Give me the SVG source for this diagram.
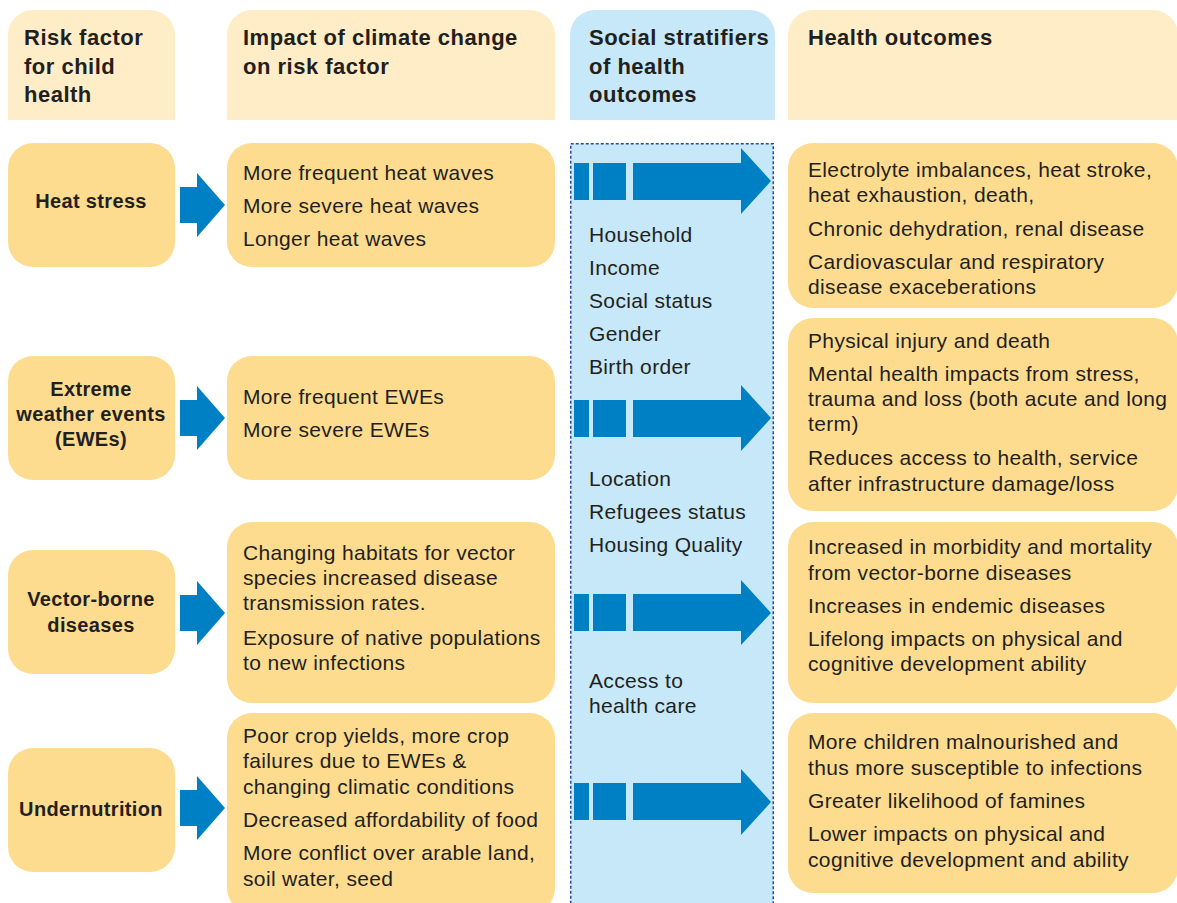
<svg xmlns="http://www.w3.org/2000/svg" width="1177" height="903" viewBox="0 0 1177 903">
  <defs>
    <style>
      .hdr { fill: #feedc7; }
      .hdrb { fill: #c6e8f8; }
      .box { fill: #fddc8f; }
      .col { fill: #c6e8f8; stroke: #2d4b9b; stroke-width: 1.5; stroke-dasharray: 3 2; }
      .arr { fill: #0080c4; }
      text { font-family: "Liberation Sans", Arial, sans-serif; fill: #231f20; }
      .ht { font-size: 22px; font-weight: bold; letter-spacing: 0.5px; }
      .lt { font-size: 20px; font-weight: bold; text-anchor: middle; letter-spacing: 0.35px; }
      .bt { font-size: 21px; letter-spacing: 0.35px; }
    </style>
  </defs>
  <rect width="1177" height="903" fill="#ffffff"/>

  <!-- column headers (rounded top corners only) -->
  <g id="hdr-risk">
    <path class="hdr" d="M8,120 V35 A25,25 0 0 1 33,10 H150 A25,25 0 0 1 175,35 V120 Z"/>
    <text class="ht" x="24" y="45">Risk factor</text>
    <text class="ht" x="24" y="74">for child</text>
    <text class="ht" x="24" y="102">health</text>
  </g>
  <g id="hdr-impact">
    <path class="hdr" d="M227,120 V35 A25,25 0 0 1 252,10 H530 A25,25 0 0 1 555,35 V120 Z"/>
    <text class="ht" x="243" y="45">Impact of climate change</text>
    <text class="ht" x="243" y="74">on risk factor</text>
  </g>
  <g id="hdr-social">
    <path class="hdrb" d="M570,120 V35 A25,25 0 0 1 595,10 H750 A25,25 0 0 1 775,35 V120 Z"/>
    <text class="ht" x="589" y="45">Social stratifiers</text>
    <text class="ht" x="589" y="74">of health</text>
    <text class="ht" x="589" y="102">outcomes</text>
  </g>
  <g id="hdr-outcomes">
    <path class="hdr" d="M788,120 V35 A25,25 0 0 1 813,10 H1153 A25,25 0 0 1 1178,35 V120 Z"/>
    <text class="ht" x="808" y="45">Health outcomes</text>
  </g>

  <!-- social stratifiers column -->
  <g id="social-column">
    <rect class="col" x="570.75" y="143.75" width="202.5" height="770"/>
    <text class="bt" x="589" y="242">Household</text>
    <text class="bt" x="589" y="275">Income</text>
    <text class="bt" x="589" y="308">Social status</text>
    <text class="bt" x="589" y="341">Gender</text>
    <text class="bt" x="589" y="374">Birth order</text>
    <text class="bt" x="589" y="486">Location</text>
    <text class="bt" x="589" y="519">Refugees status</text>
    <text class="bt" x="589" y="552">Housing Quality</text>
    <text class="bt" x="589" y="688">Access to</text>
    <text class="bt" x="589" y="713">health care</text>
  </g>

  <!-- risk factors -->
  <g id="risk-heat">
    <rect class="box" x="8" y="143" width="167" height="124" rx="25"/>
    <text class="lt" x="91" y="208">Heat stress</text>
  </g>
  <g id="risk-ewe">
    <rect class="box" x="8" y="356" width="167" height="124" rx="25"/>
    <text class="lt" x="91" y="396">Extreme</text>
    <text class="lt" x="91" y="421">weather events</text>
    <text class="lt" x="91" y="446">(EWEs)</text>
  </g>
  <g id="risk-vector">
    <rect class="box" x="8" y="550" width="167" height="124" rx="25"/>
    <text class="lt" x="91" y="606">Vector-borne</text>
    <text class="lt" x="91" y="632">diseases</text>
  </g>
  <g id="risk-nutrition">
    <rect class="box" x="8" y="748" width="167" height="124" rx="25"/>
    <text class="lt" x="91" y="816">Undernutrition</text>
  </g>

  <!-- climate impacts -->
  <g id="impact-heat">
    <rect class="box" x="227" y="143" width="328" height="124" rx="25"/>
    <text class="bt" x="243" y="180">More frequent heat waves</text>
    <text class="bt" x="243" y="213">More severe heat waves</text>
    <text class="bt" x="243" y="246">Longer heat waves</text>
  </g>
  <g id="impact-ewe">
    <rect class="box" x="227" y="356" width="328" height="124" rx="25"/>
    <text class="bt" x="243" y="404">More frequent EWEs</text>
    <text class="bt" x="243" y="437">More severe EWEs</text>
  </g>
  <g id="impact-vector">
    <rect class="box" x="227" y="522" width="328" height="181" rx="25"/>
    <text class="bt" x="243" y="560">Changing habitats for vector</text>
    <text class="bt" x="243" y="585">species increased disease</text>
    <text class="bt" x="243" y="610">transmission rates.</text>
    <text class="bt" x="243" y="645">Exposure of native populations</text>
    <text class="bt" x="243" y="670">to new infections</text>
  </g>
  <g id="impact-nutrition">
    <rect class="box" x="227" y="713" width="328" height="200" rx="25"/>
    <text class="bt" x="243" y="743">Poor crop yields, more crop</text>
    <text class="bt" x="243" y="768">failures due to EWEs &amp;</text>
    <text class="bt" x="243" y="794">changing climatic conditions</text>
    <text class="bt" x="243" y="827">Decreased affordability of food</text>
    <text class="bt" x="243" y="860">More conflict over arable land,</text>
    <text class="bt" x="243" y="886">soil water, seed</text>
  </g>

  <!-- health outcomes -->
  <g id="outcome-heat">
    <rect class="box" x="788" y="143" width="390" height="165" rx="25"/>
    <text class="bt" x="808" y="177">Electrolyte imbalances, heat stroke,</text>
    <text class="bt" x="808" y="202">heat exhaustion, death,</text>
    <text class="bt" x="808" y="236">Chronic dehydration, renal disease</text>
    <text class="bt" x="808" y="269">Cardiovascular and respiratory</text>
    <text class="bt" x="808" y="294">disease exaceberations</text>
  </g>
  <g id="outcome-ewe">
    <rect class="box" x="788" y="318" width="390" height="193" rx="25"/>
    <text class="bt" x="808" y="348">Physical injury and death</text>
    <text class="bt" x="808" y="381">Mental health impacts from stress,</text>
    <text class="bt" x="808" y="406">trauma and loss (both acute and long</text>
    <text class="bt" x="808" y="431">term)</text>
    <text class="bt" x="808" y="465">Reduces access to health, service</text>
    <text class="bt" x="808" y="491">after infrastructure damage/loss</text>
  </g>
  <g id="outcome-vector">
    <rect class="box" x="788" y="522" width="390" height="181" rx="25"/>
    <text class="bt" x="808" y="554">Increased in morbidity and mortality</text>
    <text class="bt" x="808" y="580">from vector-borne diseases</text>
    <text class="bt" x="808" y="613">Increases in endemic diseases</text>
    <text class="bt" x="808" y="646">Lifelong impacts on physical and</text>
    <text class="bt" x="808" y="671">cognitive development ability</text>
  </g>
  <g id="outcome-nutrition">
    <rect class="box" x="788" y="713" width="390" height="180" rx="25"/>
    <text class="bt" x="808" y="749">More children malnourished and</text>
    <text class="bt" x="808" y="775">thus more susceptible to infections</text>
    <text class="bt" x="808" y="808">Greater likelihood of famines</text>
    <text class="bt" x="808" y="841">Lower impacts on physical and</text>
    <text class="bt" x="808" y="867">cognitive development and ability</text>
  </g>

  <!-- connectors: block arrows -->
  <g id="connectors">
    <!-- risk factor to impact -->
    <polygon class="arr" points="180,187 197,187 197,173 225,205 197,237 197,223 180,223"/>
    <polygon class="arr" points="180,400 197,400 197,386 225,418 197,450 197,436 180,436"/>
    <polygon class="arr" points="180,595 197,595 197,581 225,613 197,645 197,631 180,631"/>
    <polygon class="arr" points="180,790 197,790 197,776 225,808 197,840 197,826 180,826"/>
    <!-- through the stratifiers to outcomes -->
    <g id="flow-heat">
      <rect class="arr" x="574" y="163" width="15" height="37"/>
      <rect class="arr" x="593" y="163" width="33" height="37"/>
      <polygon class="arr" points="633,163 741,163 741,148 771,181 741,214 741,200 633,200"/>
    </g>
    <g id="flow-ewe">
      <rect class="arr" x="574" y="400" width="15" height="37"/>
      <rect class="arr" x="593" y="400" width="33" height="37"/>
      <polygon class="arr" points="633,400 741,400 741,385 771,418 741,451 741,437 633,437"/>
    </g>
    <g id="flow-vector">
      <rect class="arr" x="574" y="594" width="15" height="37"/>
      <rect class="arr" x="593" y="594" width="33" height="37"/>
      <polygon class="arr" points="633,594 741,594 741,580 771,613 741,645 741,631 633,631"/>
    </g>
    <g id="flow-nutrition">
      <rect class="arr" x="574" y="783" width="15" height="37"/>
      <rect class="arr" x="593" y="783" width="33" height="37"/>
      <polygon class="arr" points="633,783 741,783 741,769 771,802 741,835 741,820 633,820"/>
    </g>
  </g>
</svg>
